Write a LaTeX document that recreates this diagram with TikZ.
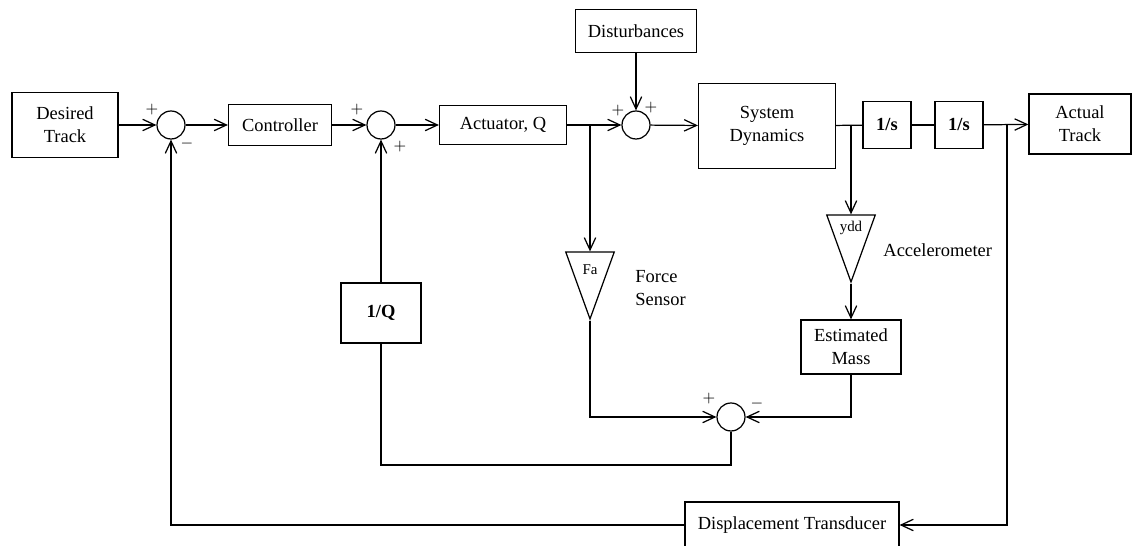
\documentclass[tikz,border=0pt]{standalone}
\usepackage{fontspec}
\setmainfont{Liberation Serif}
\usetikzlibrary{shapes.geometric, arrows.meta}
\tikzstyle{rect} = [rectangle, draw=black, text centered, align=center, inner sep=0pt]
\tikzstyle{sumc} = [circle, draw=black, minimum size=0.56cm, inner sep=0pt]
\tikzstyle{tri} = [isosceles triangle, isosceles triangle stretches, shape border rotate=270, draw=black, inner sep=0pt, minimum width=0.97cm, minimum height=1.34cm]
\tikzstyle{arrow} = [->,>={Straight Barb[length=7pt,width=6.5pt]}]
\tikzstyle{sgn} = [inner sep=0pt, font=\small]

\begin{document}
\begin{tikzpicture}[x=0.02cm, y=-0.02cm, line width=0.7pt, font=\fontsize{10.5}{13}\selectfont]
        \useasboundingbox (0,0) rectangle (1133,546);

        % forward path
        \node (desired) [rect, minimum width=2.12cm, minimum height=1.3cm] at (65,125) {Desired\\Track};
        \node (sum1) [sumc] at (171,125) {};
        \node (ctrl) [rect, minimum width=2.06cm, minimum height=0.82cm] at (280,125) {Controller};
        \node (sum2) [sumc] at (381,125) {};
        \node (act) [rect, minimum width=2.54cm, minimum height=0.78cm] at (503,125) {Actuator, Q};
        \node (sum3) [sumc] at (636,125) {};
        \node (dist) [rect, minimum width=2.42cm, minimum height=0.86cm] at (636,31) {Disturbances};
        \node (sysdyn) [rect, minimum width=2.74cm, minimum height=1.7cm] at (767,126) {System\\Dynamics};
        \node (int1) [rect, minimum width=0.96cm, minimum height=0.94cm, font=\fontsize{10.5}{13}\selectfont\bfseries] at (887,125) {1/s};
        \node (int2) [rect, minimum width=0.96cm, minimum height=0.94cm, font=\fontsize{10.5}{13}\selectfont\bfseries] at (959,125) {1/s};
        \node (actual) [rect, minimum width=2.04cm, minimum height=1.2cm] at (1080,124) {Actual\\Track};

        % sensors
        \node (fa) [tri] at (590,269) {};
        \node (falbl) [font=\fontsize{8.5}{10}\selectfont] at (590,270) {Fa};
        \node (fatxt) [anchor=west, align=left] at (629,288) {Force\\Sensor};
        \node (ydd) [tri] at (851,232) {};
        \node (yddlbl) [font=\fontsize{8.5}{10}\selectfont] at (851,228) {ydd};
        \node (acctxt) [anchor=west] at (877,250) {Accelerometer};
        \node (mass) [rect, minimum width=2cm, minimum height=1.08cm] at (851,347) {Estimated\\Mass};
        \node (sum4) [sumc] at (731,417) {};
        \node (invq) [rect, minimum width=1.6cm, minimum height=1.2cm, font=\fontsize{10.5}{13}\selectfont\bfseries] at (381,313) {1/Q};
        \node (disp) [rect, minimum width=4.28cm, minimum height=0.92cm] at (792,525) {Displacement Transducer};

        \coordinate (plain1) at (590,125);
        \coordinate (plain2) at (851,125);
        \coordinate (plain3) at (1007,125);
        \coordinate (plain4) at (381,465);

        \draw [arrow] (desired) -- (sum1);
        \draw [arrow] (sum1) -- (ctrl);
        \draw [arrow] (ctrl) -- (sum2);
        \draw [arrow] (sum2) -- (act);
        \draw [arrow] (act) -- (sum3);
        \draw [arrow] (dist) -- (sum3);
        \draw [arrow] (sum3) -- (sysdyn);
        \draw (sysdyn) -- (int1);
        \draw (int1) -- (int2);
        \draw [arrow] (int2) -- (actual);

        \draw [arrow] (plain1) -- (fa.lower side);
        \draw [arrow] (fa.apex) |- (sum4);
        \draw [arrow] (plain2) -- (ydd.lower side);
        \draw [arrow] (ydd.apex) -- (mass);
        \draw [arrow] (mass) |- (sum4);
        \draw (sum4) |- (plain4) -- (invq);
        \draw [arrow] (invq) -- (sum2);
        \draw [arrow] (plain3) |- (disp);
        \draw [arrow] (disp) -| (sum1);

        % signs
        \node [sgn] at (152,110) {$+$};
        \node [sgn] at (187,144) {$-$};
        \node [sgn] at (357,110) {$+$};
        \node [sgn] at (400,147) {$+$};
        \node [sgn] at (618,111) {$+$};
        \node [sgn] at (651,108) {$+$};
        \node [sgn] at (709,399) {$+$};
        \node [sgn] at (757,404) {$-$};
\end{tikzpicture}
\end{document}
